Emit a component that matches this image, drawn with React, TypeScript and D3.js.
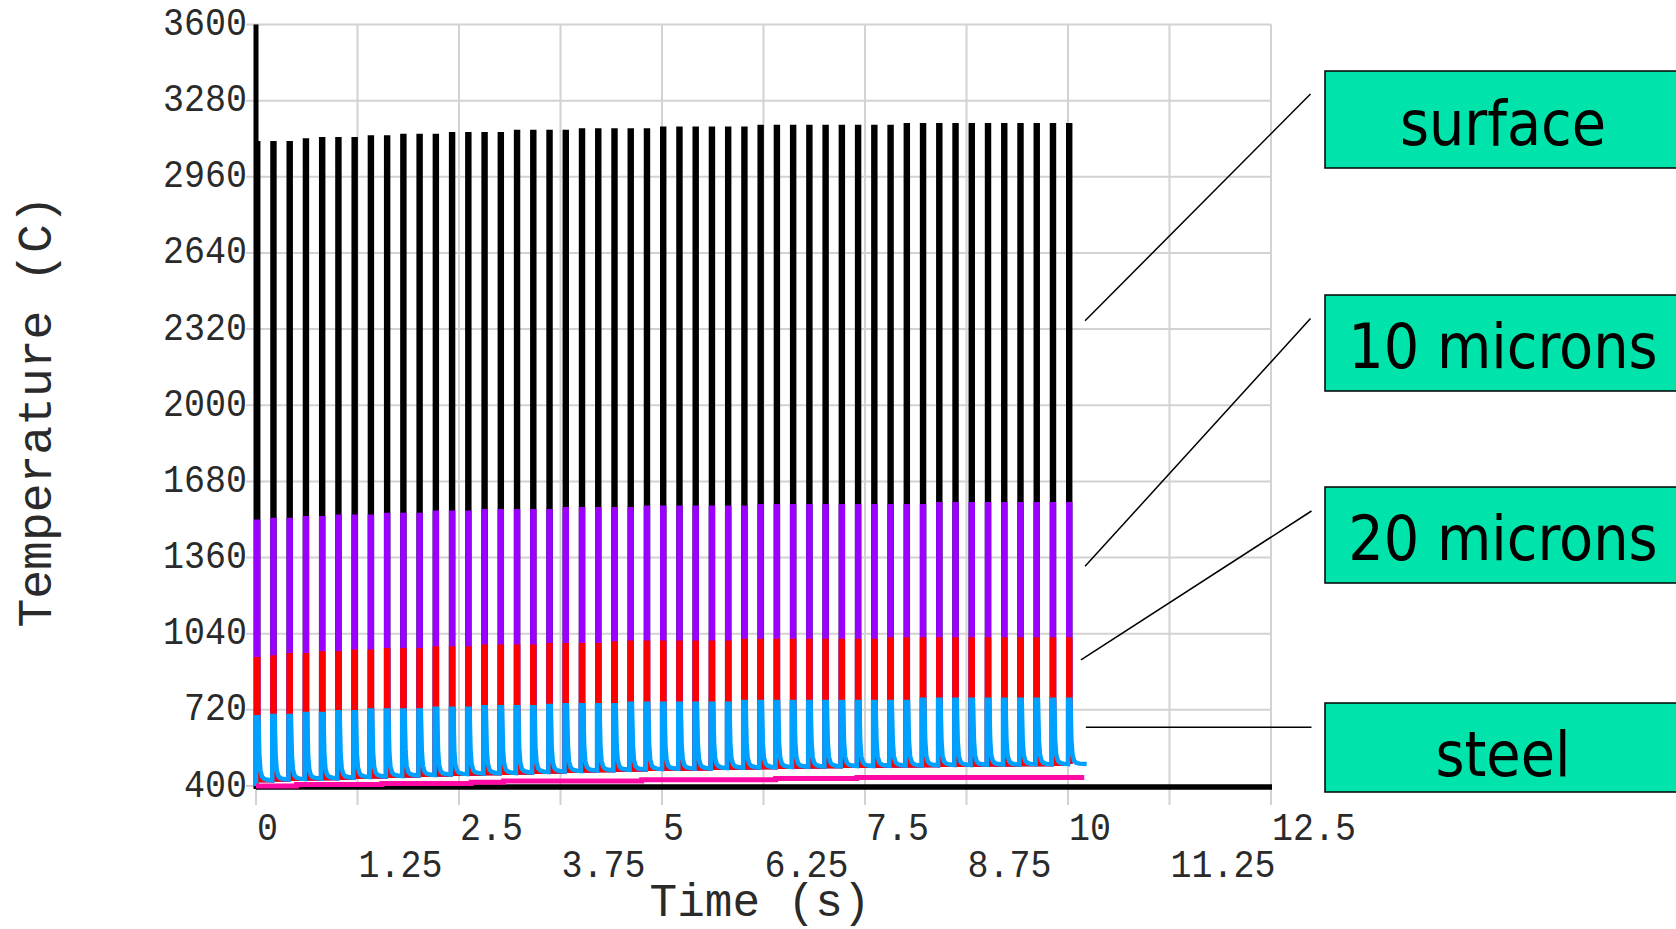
import React from "react";
import * as d3 from "d3";

const W = 1676;
const H = 929;

// Pulse times (s)
const pulseTimes = [
  0, 0.2, 0.4, 0.6, 0.8, 1.0, 1.2, 1.4, 1.6, 1.8, 2.0, 2.2, 2.4, 2.6, 2.8, 3.0, 3.2, 3.4, 3.6, 3.8,
  4.0, 4.2, 4.4, 4.6, 4.8, 5.0, 5.2, 5.4, 5.6, 5.8, 6.0, 6.2, 6.4, 6.6, 6.8, 7.0, 7.2, 7.4, 7.6, 7.8,
  8.0, 8.2, 8.4, 8.6, 8.8, 9.0, 9.2, 9.4, 9.6, 9.8, 10.0,
];

// Peak temperatures per pulse (C)
const surfacePeaks = [
  3102, 3102, 3102, 3114, 3119, 3119, 3119, 3126, 3126, 3133, 3133, 3133, 3140, 3140, 3140, 3140,
  3149, 3149, 3149, 3149, 3156, 3156, 3156, 3156, 3156, 3163, 3163, 3163, 3163, 3163, 3163,
  3170, 3170, 3170, 3170, 3170, 3170, 3170, 3170, 3170,
  3178, 3178, 3178, 3178, 3178, 3178, 3178, 3178, 3178, 3178, 3178,
];
const micron10Peaks = [
  1511, 1519, 1519, 1526, 1526, 1532, 1532, 1532, 1540, 1540, 1540, 1549, 1549, 1549,
  1556, 1556, 1556, 1556, 1556, 1564, 1564, 1564, 1564, 1564, 1570, 1570, 1570, 1570, 1570, 1570, 1570,
  1577, 1577, 1577, 1577, 1577, 1577, 1577, 1577, 1577, 1577, 1577,
  1585, 1585, 1585, 1585, 1585, 1585, 1585, 1585, 1585,
];
const micron20Peaks = [
  934, 941, 950, 950, 958, 958, 965, 965, 972, 972, 972, 979, 979, 979, 986, 986, 986, 986,
  993, 993, 993, 993, 1000, 1003, 1003, 1003, 1003, 1003, 1003, 1003,
  1010, 1010, 1010, 1010, 1010, 1010, 1010, 1010, 1010,
  1017, 1017, 1017, 1017, 1017, 1017, 1017, 1017, 1017, 1017, 1017, 1017,
];
const steelPeaks = [
  689, 694, 694, 703, 703, 710, 710, 717, 717, 717, 717, 725, 725, 725, 731, 731, 731, 731,
  736, 739, 739, 739, 739, 746, 746, 746, 746, 746, 746, 746,
  753, 753, 753, 753, 753, 753, 753, 753, 753, 753, 753,
  762, 762, 762, 762, 762, 762, 762, 762, 762, 762,
];
// Temperature just before each pulse (C), plus the level after the last one
const steelBase = [
  400, 424, 427, 429, 431, 433, 435, 438, 440, 442, 444, 446, 448, 450, 452, 454, 455, 457, 459, 461,
  463, 465, 466, 468, 469, 471, 472, 473, 474, 476, 477, 478, 479, 480, 481, 482, 483, 484, 484, 485,
  486, 486, 487, 488, 488, 489, 490, 490, 491, 491, 492, 492,
];
// Shape of the fast decay after each pulse: time after pulse (s) and rise above base (C)
const tailDt = [0.042, 0.055, 0.075, 0.1, 0.14];
const tailRise = [100, 40, 15, 6, 2];
const pulseWidth = 0.03;
const steelEnd = 10.23;

// Lowest trace (pink), stepped
const pinkTimes = [0, 0.5, 1.55, 2.65, 3.05, 4.75, 6.4, 7.4, 10.2];
const pinkValues = [400, 406, 411, 416, 421, 426, 431, 436, 436];

const yTicks = [400, 720, 1040, 1360, 1680, 2000, 2320, 2640, 2960, 3280, 3600];
const xTicks = [0, 1.25, 2.5, 3.75, 5, 6.25, 7.5, 8.75, 10, 11.25, 12.5];
const xTickLabels = ["0", "1.25", "2.5", "3.75", "5", "6.25", "7.5", "8.75", "10", "11.25", "12.5"];

const labels = ["surface", "10 microns", "20 microns", "steel"];
const labelAnchorT = [10.21, 10.21, 10.16, 10.22];
const labelAnchorV = [2355, 1323, 930, 647];

export default function App() {
  const x = d3.scaleLinear().domain([0, 12.5]).range([256, 1271]);
  const y = d3.scaleLinear().domain([400, 3600]).range([786, 24.5]);
  const line = d3.line<[number, number]>().x((d) => x(d[0])).y((d) => y(d[1]));

  const pulsePath = (peaks: number[]) => {
    const pts: [number, number][] = [];
    pulseTimes.forEach((t, k) => {
      pts.push([t, steelBase[k]]);
      pts.push([t, peaks[k]]);
      pts.push([t + pulseWidth, peaks[k]]);
      pts.push([t + pulseWidth, steelBase[k + 1]]);
    });
    return line(pts) as string;
  };

  const steelPath = () => {
    const pts: [number, number][] = [];
    pulseTimes.forEach((t, k) => {
      pts.push([t, steelBase[k]]);
      pts.push([t, steelPeaks[k]]);
      pts.push([t + pulseWidth, steelPeaks[k]]);
      tailDt.forEach((dt, i) => pts.push([t + dt, steelBase[k + 1] + tailRise[i]]));
    });
    pts.push([steelEnd, steelBase[steelBase.length - 1]]);
    return line(pts) as string;
  };

  const pinkLine = d3
    .line<number>()
    .x((_, i) => x(pinkTimes[i]))
    .y((d) => y(d))
    .curve(d3.curveStepAfter);

  const boxes = [
    { y0: 71, y1: 168, base: 145 },
    { y0: 295, y1: 391, base: 368 },
    { y0: 487, y1: 583, base: 560 },
    { y0: 703, y1: 792, base: 776 },
  ];
  const calloutEnd = [
    [1310.5, 94],
    [1310.5, 318.5],
    [1311.5, 511],
    [1311.5, 727.3],
  ];

  const monoFont = "'Liberation Mono', 'DejaVu Sans Mono', monospace";
  const gridColor = "#d2d2d2";
  const tickFill = "#2a2a2a";

  return (
    <svg
      width={W}
      height={H}
      style={{ position: "absolute", left: 0, top: 0, background: "#fff" }}
    >
      {/* grid */}
      {yTicks.map((v) => (
        <line key={"gy" + v} x1={246} x2={x(12.5)} y1={y(v)} y2={y(v)} stroke={gridColor} strokeWidth={2} />
      ))}
      {xTicks.map((t) => (
        <line key={"gx" + t} x1={x(t)} x2={x(t)} y1={y(3600)} y2={805} stroke={gridColor} strokeWidth={2} />
      ))}
      {/* axes */}
      <line x1={x(0)} x2={x(0)} y1={y(3600)} y2={y(400) + 3} stroke="#000" strokeWidth={5} />
      <line x1={x(0)} x2={x(12.5) + 1} y1={y(400) + 1} y2={y(400) + 1} stroke="#000" strokeWidth={5.5} />

      {/* series */}
      <path d={pulsePath(surfacePeaks)} fill="none" stroke="#000000" strokeWidth={4} />
      <path d={pulsePath(micron10Peaks)} fill="none" stroke="#9900ff" strokeWidth={4} />
      <path d={pulsePath(micron20Peaks)} fill="none" stroke="#ff0000" strokeWidth={4} />
      <path d={steelPath()} fill="none" stroke="#00a0ff" strokeWidth={4.5} />
      <path d={pinkLine(pinkValues) as string} fill="none" stroke="#ff0aa5" strokeWidth={5} />

      {/* y tick labels */}
      {yTicks.map((v) => (
        <text
          key={"ty" + v}
          transform={`translate(247,${y(v)}) scale(1,1.12)`}
          textAnchor="end"
          dominantBaseline="central"
          fontFamily={monoFont}
          fontSize={35}
          fill={tickFill}
        >
          {v}
        </text>
      ))}
      {/* x tick labels */}
      {xTicks.map((t, i) => (
        <text
          key={"tx" + t}
          transform={`translate(${x(t) + 1},${i % 2 === 0 ? 829 : 866}) scale(1,1.12)`}
          textAnchor="start"
          dominantBaseline="central"
          fontFamily={monoFont}
          fontSize={35}
          fill={tickFill}
        >
          {xTickLabels[i]}
        </text>
      ))}
      {/* axis titles */}
      <text
        x={760}
        y={916}
        textAnchor="middle"
        fontFamily={monoFont}
        fontSize={46}
        fill={tickFill}
      >
        Time (s)
      </text>
      <text
        transform="translate(37.5,411.5) rotate(-90)"
        textAnchor="middle"
        dominantBaseline="central"
        fontFamily={monoFont}
        fontSize={48}
        fill={tickFill}
      >
        Temperature (C)
      </text>

      {/* callouts */}
      {labels.map((lab, i) => (
        <g key={lab}>
          <line
            x1={x(labelAnchorT[i])}
            y1={y(labelAnchorV[i])}
            x2={calloutEnd[i][0]}
            y2={calloutEnd[i][1]}
            stroke="#000"
            strokeWidth={1.5}
          />
          <rect
            x={1325}
            y={boxes[i].y0}
            width={400}
            height={boxes[i].y1 - boxes[i].y0}
            fill="#00e3aa"
            stroke="#000"
            strokeWidth={1.5}
          />
          <text
            x={1503}
            y={boxes[i].base}
            textAnchor="middle"
            fontFamily="'DejaVu Sans Condensed', 'DejaVu Sans', sans-serif"
            fontStretch="condensed"
            fontSize={62}
            fill="#000"
          >
            {lab}
          </text>
        </g>
      ))}
    </svg>
  );
}
